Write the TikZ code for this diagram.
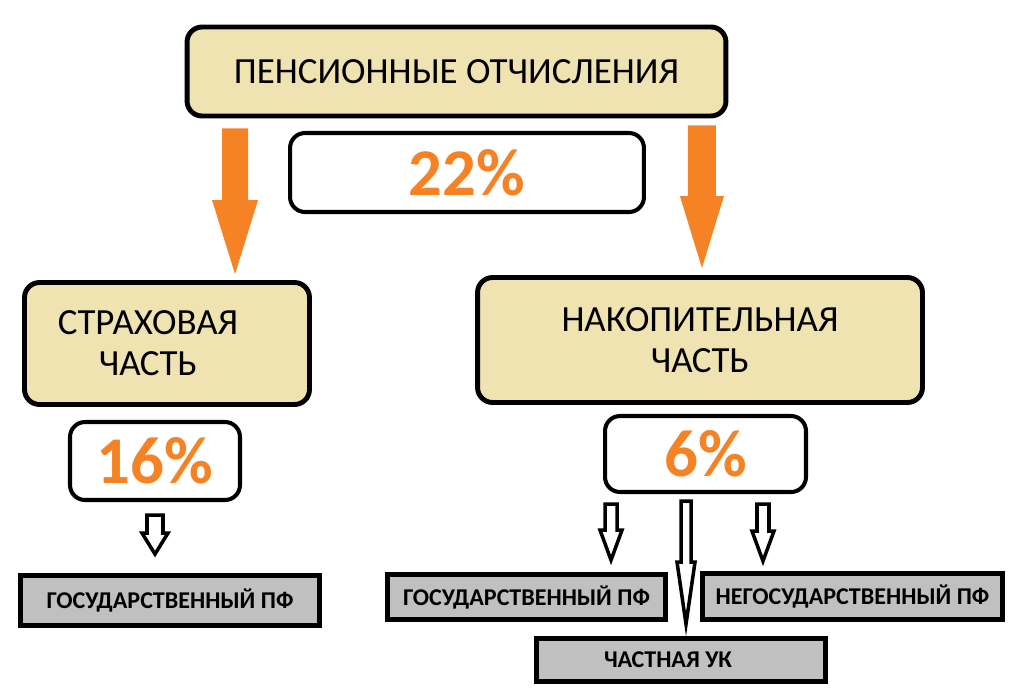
\documentclass[tikz,border=0pt]{standalone}
\usepackage{fontspec}
\setmainfont{Carlito}
\usetikzlibrary{calc,positioning}
\definecolor{sand}{RGB}{239,228,177}
\definecolor{carrot}{RGB}{246,130,38}
\definecolor{ash}{RGB}{192,192,192}
\tikzset{
    share/.style={
           rectangle,
           rounded corners=0.3cm,
           draw=black, line width=2.8pt,
           fill=sand,
           inner sep=0pt},
    sharetext/.style={
           font=\fontsize{21}{23.3}\selectfont,
           align=center},
    rate/.style={
           rectangle,
           rounded corners=0.3cm,
           draw=black, line width=2.3pt,
           fill=white,
           text=carrot,
           font=\fontsize{38}{40}\selectfont\bfseries},
    fund/.style={
           rectangle,
           draw=black, line width=2.8pt,
           fill=ash,
           font=\fontsize{13.7}{15}\selectfont\bfseries},
    % block arrows
    flow/.style={fill=carrot},
    hollow/.style={draw=black, fill=white, line width=2pt, line join=miter}
}
% style, from, to, half shaft, half head, head length
\newcommand{\blockarrow}[6]{%
  \path[#1] let \p1=(#2), \p2=(#3) in
    (\x1-#4,\y1) -- (\x1-#4,\y2+#6) -- (\x1-#5,\y2+#6) -- (\x1,\y2)
    -- (\x1+#5,\y2+#6) -- (\x1+#4,\y2+#6) -- (\x1+#4,\y1) -- cycle;}

\begin{document}
\begin{tikzpicture}[x=0.02cm, y=-0.02cm]
	\useasboundingbox (0,0) rectangle (1017,694);

	\node[share, sharetext, minimum width=10.78cm, minimum height=1.78cm] (top) at (456.5,71.5) {ПЕНСИОННЫЕ ОТЧИСЛЕНИЯ};
	\node[rate, minimum width=7.08cm, minimum height=1.58cm] (p22) at (467,172.5) {22\%};

	\node[share, minimum width=5.7cm, minimum height=2.44cm] (ins) at (167,343.5) {};
	\node[sharetext, xshift=-0.38cm] (instext) at (ins) {СТРАХОВАЯ\\ЧАСТЬ};
	\node[share, sharetext, minimum width=8.9cm, minimum height=2.5cm] (acc) at (700,340) {НАКОПИТЕЛЬНАЯ\\ЧАСТЬ};

	\node[rate, minimum width=3.4cm, minimum height=1.56cm] (p16) at (155,461) {16\%};
	\node[rate, minimum width=4.02cm, minimum height=1.52cm] (p6) at (705.5,454) {6\%};

	\node[fund, minimum width=5.98cm, minimum height=1.0cm] (gpfa) at (170,600.5) {ГОСУДАРСТВЕННЫЙ ПФ};
	\node[fund, minimum width=5.56cm, minimum height=0.9cm] (gpfb) at (526.5,597) {ГОСУДАРСТВЕННЫЙ ПФ};
	\node[fund, minimum width=6.0cm, minimum height=0.92cm] (npf) at (852.5,596.5) {НЕГОСУДАРСТВЕННЫЙ ПФ};
	\node[fund, minimum width=5.78cm, minimum height=0.86cm] (uk) at (681,660) {ЧАСТНАЯ УК\hspace*{0.52cm}};

	\blockarrow{flow}{[xshift=-4.43cm,yshift=-0.2cm]top.south}{[yshift=0.12cm]ins.north}{0.26cm}{0.46cm}{1.48cm}
	\blockarrow{flow}{[xshift=4.91cm,yshift=-0.14cm]top.south}{[yshift=0.14cm]acc.north}{0.28cm}{0.44cm}{1.44cm}

	\blockarrow{hollow}{[yshift=-0.26cm]p16.south}{[yshift=0.38cm]gpfa.north}{0.16cm}{0.26cm}{0.42cm}
	\blockarrow{hollow}{[xshift=-1.89cm,yshift=-0.2cm]p6.south}{[yshift=0.24cm]gpfb.north}{0.12cm}{0.22cm}{0.6cm}
	\blockarrow{hollow}{[xshift=-0.39cm,yshift=-0.14cm]p6.south}{[yshift=0.24cm]uk.north}{0.1cm}{0.18cm}{1.24cm}
	\blockarrow{hollow}{[xshift=1.15cm,yshift=-0.2cm]p6.south}{[yshift=0.2cm]npf.north}{0.12cm}{0.22cm}{0.6cm}
\end{tikzpicture}
\end{document}
